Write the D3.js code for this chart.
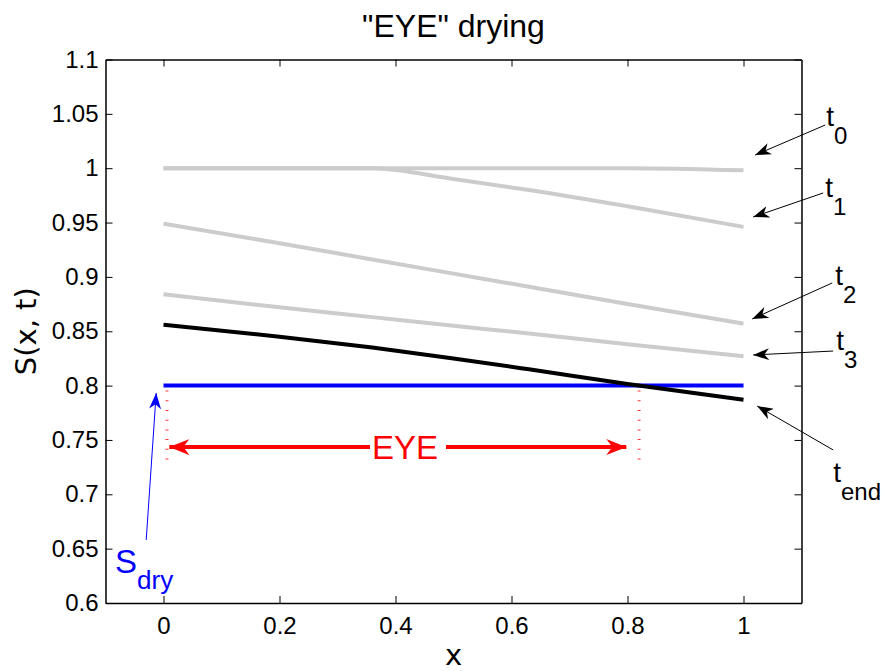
<!DOCTYPE html>
<html>
<head>
<meta charset="utf-8">
<script src="https://cdn.jsdelivr.net/npm/d3@7/dist/d3.min.js"></script>
<style>
  body { margin: 0; background: #fff; }
  svg text { font-family: "Liberation Sans", Arial, Helvetica, sans-serif; }
</style>
</head>
<body>
<div id="chart"></div>
<script>
// saturation profiles S(x, t)
let xs = [0, 0.2, 0.36, 0.5, 0.63, 0.8, 1];
let t0 = [1, 1, 1, 1, 1, 1, 0.998];
let t1 = [1, 1, 1, 0.99, 0.98, 0.965, 0.946];
let t2 = [0.949, 0.931, 0.916, 0.903, 0.891, 0.875, 0.857];
let t3 = [0.884, 0.872, 0.863, 0.855, 0.848, 0.838, 0.827];
let tEnd = [0.856, 0.845, 0.835, 0.825, 0.815, 0.8015, 0.787];
let sDry = 0.8;
let eyeEnd = 0.82;

let xTicks = [0, 0.2, 0.4, 0.6, 0.8, 1];
let yTicks = [0.6, 0.65, 0.7, 0.75, 0.8, 0.85, 0.9, 0.95, 1, 1.05, 1.1];

// annotation arrows (data units): tail -> tip, and labels
let labels = [
  { main: "t", sub: "0", x: 1.1426, y: 1.0388, tail: [1.1409, 1.0397], tip: [1.0201, 1.0121] },
  { main: "t", sub: "1", x: 1.1409, y: 0.9735, tail: [1.1374, 0.9772], tip: [1.0167, 0.9551] },
  { main: "t", sub: "2", x: 1.1581, y: 0.8925, tail: [1.1529, 0.8944], tip: [1.0150, 0.8613] },
  { main: "t", sub: "3", x: 1.1598, y: 0.8327, tail: [1.1546, 0.8318], tip: [1.0167, 0.8282] },
  { main: "t", sub: "end", x: 1.1546, y: 0.7112, tail: [1.1546, 0.7408], tip: [1.0236, 0.7812] }
];

let width = 887, height = 671;
let svg = d3.select("#chart").append("svg")
  .attr("width", width).attr("height", height);

let x = d3.scaleLinear().domain([-0.1, 1.1]).range([105.5, 801.5]);
let y = d3.scaleLinear().domain([0.6, 1.1]).range([603, 59.5]);

let defs = svg.append("defs");
function marker(id, color, len, half) {
  defs.append("marker")
    .attr("id", id)
    .attr("viewBox", `0 ${-half} ${len} ${half * 2}`)
    .attr("refX", len).attr("refY", 0)
    .attr("markerUnits", "userSpaceOnUse")
    .attr("markerWidth", len).attr("markerHeight", half * 2)
    .attr("orient", "auto-start-reverse")
    .append("path")
    .attr("d", `M0,${-half}L${len},0L0,${half}L${len * 0.3},0Z`)
    .attr("fill", color);
}
marker("arrBlack", "#000", 16, 6);
marker("arrBlue", "#0000ff", 16, 6);
marker("arrRed", "#ff0000", 20, 8);

// axes, ticks pointing inward like matlab
let fmt = d3.format("~g");
svg.append("g").attr("transform", `translate(0,${y(0.6)})`)
  .call(d3.axisBottom(x).tickValues(xTicks).tickFormat(fmt).tickSizeInner(-7).tickSizeOuter(0).tickPadding(14));
svg.append("g").attr("transform", `translate(0,${y(1.1)})`)
  .call(d3.axisTop(x).tickValues(xTicks).tickFormat("").tickSizeInner(-7).tickSizeOuter(0));
svg.append("g").attr("transform", `translate(${x(-0.1)},0)`)
  .call(d3.axisLeft(y).tickValues(yTicks).tickFormat(fmt).tickSizeInner(-7).tickSizeOuter(0).tickPadding(7));
svg.append("g").attr("transform", `translate(${x(1.1)},0)`)
  .call(d3.axisRight(y).tickValues(yTicks).tickFormat("").tickSizeInner(-7).tickSizeOuter(0));

svg.selectAll(".domain").attr("stroke", "#000").attr("stroke-width", 1.5);
svg.selectAll(".tick line").attr("stroke", "#000");
svg.selectAll(".tick text")
  .attr("font-size", 24)
  .attr("font-family", "Liberation Sans, Arial, sans-serif")
  .attr("fill", "#000");

let line = d3.line().x((d, i) => x(xs[i])).y(d => y(d)).curve(d3.curveMonotoneX);

[t3, t2, t1, t0].forEach(s => {
  svg.append("path").datum(s)
    .attr("d", line)
    .attr("fill", "none")
    .attr("stroke", "#cccccc")
    .attr("stroke-width", 4);
});

svg.append("line")
  .attr("x1", x(0)).attr("x2", x(1))
  .attr("y1", y(sDry)).attr("y2", y(sDry))
  .attr("stroke", "#0000ff").attr("stroke-width", 4);

svg.append("path").datum(tEnd)
  .attr("d", line)
  .attr("fill", "none")
  .attr("stroke", "#000")
  .attr("stroke-width", 4);

// EYE span: dotted verticals + double arrow
[[0.006, 0.726], [eyeEnd, 0.73]].forEach(d => {
  svg.append("line")
    .attr("x1", x(d[0])).attr("x2", x(d[0]))
    .attr("y1", y(sDry) + 5).attr("y2", y(d[1]))
    .attr("stroke", "#ff0000").attr("stroke-opacity", 0.8)
    .attr("stroke-width", 3)
    .attr("stroke-dasharray", "1,8.7");
});

let eyeY = 0.7435;
svg.append("line")
  .attr("x1", x(0.01)).attr("x2", x(0.798))
  .attr("y1", y(eyeY)).attr("y2", y(eyeY))
  .attr("stroke", "#ff0000").attr("stroke-width", 4)
  .attr("marker-start", "url(#arrRed)")
  .attr("marker-end", "url(#arrRed)");
svg.append("rect")
  .attr("x", 370).attr("y", y(eyeY) - 20)
  .attr("width", 76).attr("height", 40)
  .attr("fill", "#fff");
svg.append("text")
  .attr("x", 405).attr("y", 459)
  .attr("text-anchor", "middle")
  .attr("font-size", 33)
  .attr("fill", "#ff0000")
  .text("EYE");

// S_dry label + arrow
svg.append("line")
  .attr("x1", x(-0.0298)).attr("y1", y(0.658))
  .attr("x2", x(-0.0126)).attr("y2", y(0.7932))
  .attr("stroke", "#0000ff").attr("stroke-width", 1)
  .attr("marker-end", "url(#arrBlue)");
let sLab = svg.append("text")
  .attr("x", x(-0.0836)).attr("y", y(0.6277))
  .attr("fill", "#0000ff");
sLab.append("tspan").attr("font-size", 33).text("S");
sLab.append("tspan").attr("font-size", 26).attr("dy", 16).text("dry");

// time labels + arrows
labels.forEach(l => {
  svg.append("line")
    .attr("x1", x(l.tail[0])).attr("y1", y(l.tail[1]))
    .attr("x2", x(l.tip[0])).attr("y2", y(l.tip[1]))
    .attr("stroke", "#000").attr("stroke-width", 1)
    .attr("marker-end", "url(#arrBlack)");
  let t = svg.append("text").attr("x", x(l.x)).attr("y", y(l.y)).attr("fill", "#000");
  t.append("tspan").attr("font-size", 28).text(l.main);
  t.append("tspan").attr("font-size", 24).attr("dy", 18).text(l.sub);
});

// titles
svg.append("text")
  .attr("x", (x(-0.1) + x(1.1)) / 2).attr("y", 37)
  .attr("text-anchor", "middle")
  .attr("font-size", 32)
  .text('"EYE" drying');

svg.append("text")
  .attr("x", (x(-0.1) + x(1.1)) / 2).attr("y", 665)
  .attr("text-anchor", "middle")
  .attr("font-size", 29)
  .style("font-family", "DejaVu Sans, sans-serif")
  .text("x");

svg.append("text")
  .attr("transform", `translate(36,${(y(0.6) + y(1.1)) / 2}) rotate(-90)`)
  .attr("text-anchor", "middle")
  .attr("font-size", 29)
  .style("font-family", "DejaVu Sans, sans-serif")
  .text("S(x, t)");
</script>
</body>
</html>
